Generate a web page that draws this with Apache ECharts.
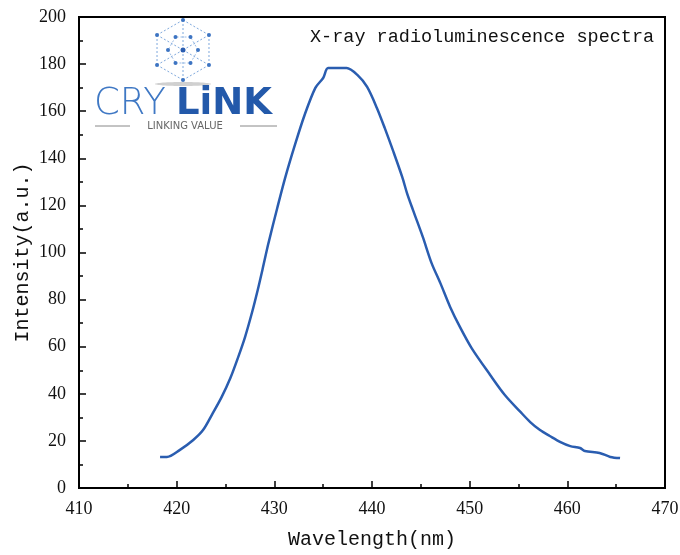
<!DOCTYPE html>
<html><head><meta charset="utf-8">
<script src="https://cdn.jsdelivr.net/npm/echarts@6/dist/echarts.min.js"></script>
<style>html,body{margin:0;padding:0;background:#fff}#c{width:680px;height:555px}</style>
</head><body><div id="c"></div>
<script>
const wavelength = [418.3,419.0,420.3,421.7,422.7,423.7,424.6,425.5,426.3,427.0,427.7,428.3,428.8,429.4,430.3,431.1,432.1,433.1,434.2,435.0,435.5,436.5,437.4,438.5,439.5,440.5,441.3,442.2,443.1,443.6,444.2,445.2,446.1,447.0,448.0,449.0,450.2,452.1,453.6,455.2,456.2,457.2,458.2,459.3,460.3,461.3,461.8,463.3,464.4,465.4];
const intensity = [13.2,13.2,16.1,20.4,24.6,31.8,38.6,46.7,55.6,64.1,74.3,84.1,93.0,104.0,118.9,131.6,145.6,158.4,169.9,174.1,178.3,178.3,178.3,175.4,170.3,161.4,152.9,142.7,132.0,125.0,118.0,106.6,95.5,87.0,76.9,68.4,59.4,48.0,39.5,32.3,28.0,24.6,22.1,19.5,17.8,17.0,15.7,14.9,13.2,12.7];
const titleText = 'X-ray radioluminescence spectra';
const xName = 'Wavelength(nm)';
const yName = 'Intensity(a.u.)';

const font = 'Liberation Mono';
const tickFont = 'Liberation Serif';
const chart = echarts.init(document.getElementById('c'), null, {renderer:'canvas'});

// logo lattice
const cx = 183, cy = 50, R = 30;
const logoEls = [];
const hexPts = [];
for (let i = 0; i < 6; i++) {
  const a = Math.PI/2 + i*Math.PI/3;
  hexPts.push([cx + R*Math.cos(a), cy - R*Math.sin(a)]);
}
const inner = [];
for (let i = 0; i < 6; i++) {
  const a = Math.PI/2 + i*Math.PI/3 + Math.PI/6;
  inner.push([cx + R*0.5*Math.cos(a), cy - R*0.5*Math.sin(a)]);
}
for (let i = 0; i < 6; i++) {
  const p = hexPts[i], q = hexPts[(i+1)%6];
  logoEls.push({type:'line', shape:{x1:p[0],y1:p[1],x2:q[0],y2:q[1]}, style:{stroke:'#7fa9dd', lineWidth:1, lineDash:[2,2]}, silent:true});
  logoEls.push({type:'line', shape:{x1:p[0],y1:p[1],x2:cx,y2:cy}, style:{stroke:'#7fa9dd', lineWidth:1, lineDash:[2,2]}, silent:true});
  const r = inner[i], s = inner[(i+1)%6];
  logoEls.push({type:'line', shape:{x1:r[0],y1:r[1],x2:s[0],y2:s[1]}, style:{stroke:'#9dbde6', lineWidth:1, lineDash:[2,2]}, silent:true});
}
hexPts.concat(inner).forEach(p => logoEls.push({type:'circle', shape:{cx:p[0],cy:p[1],r:2}, style:{fill:'#3d74c2'}, silent:true}));
logoEls.push({type:'circle', shape:{cx:cx,cy:cy,r:2.5}, style:{fill:'#2a5db0'}, silent:true});
logoEls.push({type:'ellipse', shape:{cx:cx,cy:84,rx:28,ry:2}, style:{fill:'rgba(120,120,120,0.35)'}, silent:true});
logoEls.push({type:'text', x:94, y:104, style:{text:'CRY', font:'300 37px "DejaVu Sans"', fill:'#3f78c4', verticalAlign:'middle'}, silent:true});
logoEls.push({type:'text', x:176, y:104, style:{text:'LiNK', font:'bold 37px "DejaVu Sans"', fill:'#2359aa', verticalAlign:'middle'}, silent:true});
logoEls.push({type:'text', x:185, y:126, style:{text:'LINKING VALUE', font:'10px "DejaVu Sans"', fill:'#666', align:'center', verticalAlign:'middle'}, silent:true});
logoEls.push({type:'line', shape:{x1:95,y1:126,x2:130,y2:126}, style:{stroke:'#888', lineWidth:1}, silent:true});
logoEls.push({type:'line', shape:{x1:240,y1:126,x2:277,y2:126}, style:{stroke:'#888', lineWidth:1}, silent:true});
logoEls.push({type:'text', x:310, y:37, style:{text:titleText, font:'18.5px "'+font+'"', fill:'#111', verticalAlign:'middle'}, silent:true});

chart.setOption({
  animation:false,
  backgroundColor:'#fff',
  grid:{left:79, right:15, top:17, bottom:67, show:true, borderColor:'#000', borderWidth:2, outerBoundsMode:'none', containLabel:false},
  xAxis:{
    type:'value', min:410, max:470, interval:10,
    name:xName, nameLocation:'middle', nameGap:42,
    nameTextStyle:{fontFamily:font, fontSize:20, color:'#111'},
    axisLine:{show:true, onZero:false, lineStyle:{color:'#000', width:2}},
    axisTick:{show:true, inside:true, length:7, lineStyle:{color:'#000', width:1.5}},
    minorTick:{show:true, splitNumber:2, length:4, lineStyle:{color:'#000', width:1.5}},
    axisLabel:{fontFamily:tickFont, fontSize:18, color:'#111', margin:12},
    splitLine:{show:false}, minorSplitLine:{show:false}
  },
  yAxis:{
    type:'value', min:0, max:200, interval:20,
    name:yName, nameLocation:'middle', nameGap:46, nameMoveOverlap:false,
    nameTextStyle:{fontFamily:font, fontSize:20, color:'#111'},
    axisLine:{show:true, lineStyle:{color:'#000', width:2}},
    axisTick:{show:true, inside:true, length:7, lineStyle:{color:'#000', width:1.5}},
    minorTick:{show:true, splitNumber:2, length:4, lineStyle:{color:'#000', width:1.5}},
    axisLabel:{fontFamily:tickFont, fontSize:18, color:'#111', margin:13},
    splitLine:{show:false}, minorSplitLine:{show:false}
  },
  graphic: logoEls,
  series:[{
    type:'line', data: wavelength.map((w,i)=>[w,intensity[i]]),
    showSymbol:false, smooth:0.3,
    lineStyle:{color:'#2a5db0', width:2.5}
  }]
});
</script></body></html>
